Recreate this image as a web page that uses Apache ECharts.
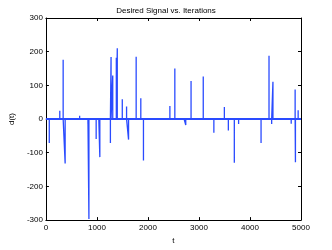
<!DOCTYPE html>
<html><head><meta charset="utf-8">
<script src="https://cdn.jsdelivr.net/npm/echarts@6/dist/echarts.min.js"></script>
<style>html,body{margin:0;padding:0;background:#fff}#c{width:332px;height:250px}</style>
</head><body><div id="c"></div>
<script>
// spike positions (t) and values d(t)
const spikeT = [66,272,338,377,661,824,843,985,1037,1057,1264,1277,1310,1380,1399,1497,1581,1620,1769,1860,1912,2430,2527,2709,2741,2845,3084,3292,3498,3576,3693,3777,4217,4373,4425,4450,4808,4885,4891,4944];
const spikeV = [-71,25,176,-132,10,-14,-297,-59,5,-113,-71,184,129,182,210,59,37,-61,185,62,-123,39,150,5,-18,113,126,-41,36,-34,-130,-15,-71,188,-15,111,-14,88,-128,26];
const xTicks = [0,1000,2000,3000,4000,5000];
const yTicks = [-300,-200,-100,0,100,200,300];
const title = 'Desired Signal vs. Iterations';

const data = [[0,0]];
for (let i = 0; i < spikeT.length; i++) {
  data.push([spikeT[i], 0], [spikeT[i], spikeV[i]], [spikeT[i], 0]);
}
data.push([5000, 0]);

const font = 'Liberation Sans';
const chart = echarts.init(document.getElementById('c'));
const axisCommon = {
  axisLine: {show: true, onZero: false, lineStyle: {color: '#000', width: 1}},
  axisTick: {show: true, inside: true, length: 3, lineStyle: {color: '#000'}},
  splitLine: {show: false}
};
const fmt = v => String(v);
chart.setOption({
  animation: false,
  title: {text: title, left: 'center', top: 2, textStyle: {fontFamily: font, fontSize: 8, fontWeight: 'normal', color: '#000'}},
  grid: {left: 43, right: 31, top: 18, bottom: 28},
  xAxis: [
    Object.assign({type: 'value', min: xTicks[0], max: xTicks[xTicks.length-1], interval: 1000, name: 't', nameLocation: 'middle', nameGap: 14,
      nameTextStyle: {fontFamily: font, fontSize: 8, color: '#000'},
      axisLabel: {fontFamily: font, fontSize: 8, color: '#000', margin: 4, formatter: fmt}}, axisCommon),
    Object.assign({type: 'value', min: xTicks[0], max: xTicks[xTicks.length-1], interval: 1000, position: 'top', axisLabel: {show: false}}, axisCommon)
  ],
  yAxis: [
    Object.assign({type: 'value', min: yTicks[0], max: yTicks[yTicks.length-1], interval: 100, name: 'd(t)', nameLocation: 'middle', nameGap: 27, nameRotate: 90,
      nameTextStyle: {fontFamily: font, fontSize: 8, color: '#000'},
      axisLabel: {fontFamily: font, fontSize: 8, color: '#000', margin: 3, formatter: fmt}}, axisCommon),
    Object.assign({type: 'value', min: yTicks[0], max: yTicks[yTicks.length-1], interval: 100, position: 'right', axisLabel: {show: false}}, axisCommon)
  ],
  series: [{
    type: 'line', data: data, showSymbol: false, symbol: 'none',
    lineStyle: {color: '#2a4bff', width: 1.3},
    markLine: {silent: true, symbol: 'none', label: {show: false},
      lineStyle: {color: '#2a4bff', width: 2, type: 'solid'}, data: [{yAxis: 0}]}
  }]
});
</script></body></html>
